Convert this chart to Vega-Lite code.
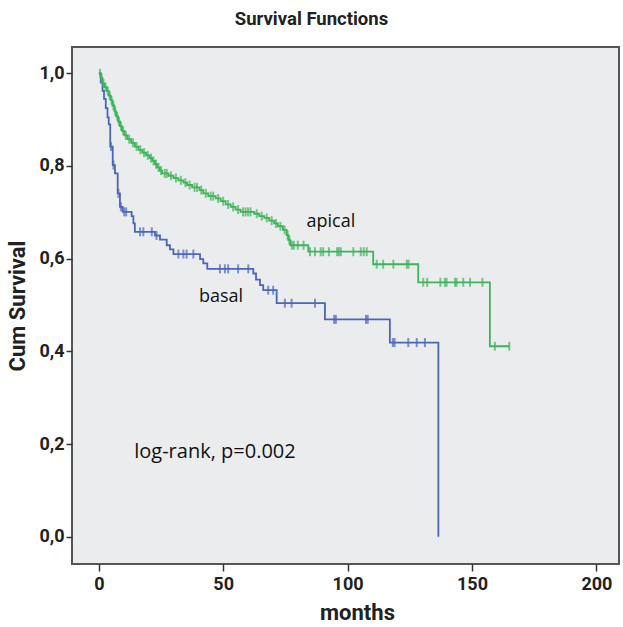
{
  "$schema": "https://vega.github.io/schema/vega-lite/v6.json",
  "width": 547,
  "height": 517,
  "autosize": {"type": "none"},
  "padding": {"left": 72, "top": 47, "right": 4, "bottom": 63},
  "background": "white",
  "title": {
    "text": "Survival Functions",
    "font": "Roboto",
    "fontSize": 18.5,
    "fontWeight": "bold",
    "color": "#222",
    "offset": 19,
    "dx": -34
  },
  "config": {
    "view": {"fill": "#ebecee", "stroke": "#555", "strokeWidth": 2},
    "axis": {
      "grid": false,
      "domain": false,
      "labelFont": "Roboto",
      "labelFontSize": 18,
      "labelFontWeight": "bold",
      "labelColor": "#222",
      "tickColor": "#333",
      "tickWidth": 1.5,
      "titleFont": "Roboto",
      "titleFontSize": 22,
      "titleFontWeight": "bold",
      "titleColor": "#222"
    }
  },
  "layer": [
    {
      "data": {"name": "surv"},
      "mark": {"type": "line", "interpolate": "step-after", "strokeWidth": 1.8},
      "encoding": {
        "x": {
          "field": "t", "type": "quantitative",
          "scale": {"domain": [-10.77, 209.1], "nice": false, "zero": false},
          "axis": {"values": [0, 50, 100, 150, 200], "title": "months", "tickSize": 7, "labelPadding": 4, "titlePadding": 9, "titleX": 285}
        },
        "y": {
          "field": "s", "type": "quantitative",
          "scale": {"domain": [-0.0589, 1.0568], "nice": false, "zero": false},
          "axis": {"values": [0, 0.2, 0.4, 0.6, 0.8, 1.0], "title": "Cum Survival", "tickSize": 6, "labelPadding": 2, "titlePadding": 9,
                   "labelExpr": "replace(format(datum.value, '.1f'), '.', ',')"}
        },
        "color": {
          "field": "g", "type": "nominal",
          "scale": {"domain": ["apical", "basal"], "range": ["#3db35a", "#4a66bb"]},
          "legend": null
        }
      }
    },
    {
      "data": {"name": "surv"},
      "transform": [{"filter": "datum.c == 1"}],
      "mark": {"type": "tick", "orient": "vertical", "size": 9, "thickness": 2},
      "encoding": {
        "x": {"field": "t", "type": "quantitative"},
        "y": {"field": "s", "type": "quantitative"},
        "color": {"field": "g", "type": "nominal", "legend": null}
      }
    },
    {
      "data": {"name": "labels"},
      "transform": [{"filter": "datum.kind == 'group'"}],
      "mark": {"type": "text", "font": "Open Sans", "fontSize": 18, "color": "#111", "align": "center", "baseline": "middle"},
      "encoding": {
        "x": {"field": "t", "type": "quantitative"},
        "y": {"field": "s", "type": "quantitative"},
        "text": {"field": "label"}
      }
    },
    {
      "data": {"name": "labels"},
      "transform": [{"filter": "datum.kind == 'test'"}],
      "mark": {"type": "text", "font": "Open Sans", "fontSize": 20, "color": "#111", "align": "center", "baseline": "middle"},
      "encoding": {
        "x": {"field": "t", "type": "quantitative"},
        "y": {"field": "s", "type": "quantitative"},
        "text": {"field": "label"}
      }
    }
  ],
  "datasets": {
    "labels": [
      {"label": "apical", "kind": "group", "t": 93.3, "s": 0.679},
      {"label": "basal", "kind": "group", "t": 49.1, "s": 0.517},
      {"label": "log-rank, p=0.002", "kind": "test", "t": 46.7, "s": 0.183}
    ],
    "surv": [
      {"g": "basal", "t": 0, "s": 1.0, "c": 0},
      {"g": "basal", "t": 0.8, "s": 0.98, "c": 0},
      {"g": "basal", "t": 1.5, "s": 0.962, "c": 0},
      {"g": "basal", "t": 2.1, "s": 0.945, "c": 0},
      {"g": "basal", "t": 2.8, "s": 0.925, "c": 0},
      {"g": "basal", "t": 3.5, "s": 0.905, "c": 0},
      {"g": "basal", "t": 4.0, "s": 0.89, "c": 0},
      {"g": "basal", "t": 4.6, "s": 0.842, "c": 0},
      {"g": "basal", "t": 4.9, "s": 0.842, "c": 1},
      {"g": "basal", "t": 5.6, "s": 0.802, "c": 0},
      {"g": "basal", "t": 5.9, "s": 0.802, "c": 1},
      {"g": "basal", "t": 6.5, "s": 0.784, "c": 0},
      {"g": "basal", "t": 7.6, "s": 0.741, "c": 0},
      {"g": "basal", "t": 7.9, "s": 0.741, "c": 1},
      {"g": "basal", "t": 8.5, "s": 0.712, "c": 0},
      {"g": "basal", "t": 8.9, "s": 0.712, "c": 1},
      {"g": "basal", "t": 9.6, "s": 0.701, "c": 0},
      {"g": "basal", "t": 10.2, "s": 0.701, "c": 1},
      {"g": "basal", "t": 11.0, "s": 0.701, "c": 1},
      {"g": "basal", "t": 13.2, "s": 0.692, "c": 0},
      {"g": "basal", "t": 13.9, "s": 0.676, "c": 0},
      {"g": "basal", "t": 14.5, "s": 0.658, "c": 0},
      {"g": "basal", "t": 16.6, "s": 0.658, "c": 1},
      {"g": "basal", "t": 17.9, "s": 0.658, "c": 1},
      {"g": "basal", "t": 21.3, "s": 0.658, "c": 1},
      {"g": "basal", "t": 22.6, "s": 0.65, "c": 0},
      {"g": "basal", "t": 23.2, "s": 0.65, "c": 1},
      {"g": "basal", "t": 24.6, "s": 0.641, "c": 0},
      {"g": "basal", "t": 27.3, "s": 0.629, "c": 0},
      {"g": "basal", "t": 28.6, "s": 0.62, "c": 0},
      {"g": "basal", "t": 30.0, "s": 0.61, "c": 0},
      {"g": "basal", "t": 32.0, "s": 0.61, "c": 1},
      {"g": "basal", "t": 34.0, "s": 0.61, "c": 1},
      {"g": "basal", "t": 35.3, "s": 0.61, "c": 1},
      {"g": "basal", "t": 38.0, "s": 0.61, "c": 1},
      {"g": "basal", "t": 40.7, "s": 0.599, "c": 0},
      {"g": "basal", "t": 42.0, "s": 0.59, "c": 0},
      {"g": "basal", "t": 43.6, "s": 0.578, "c": 0},
      {"g": "basal", "t": 48.7, "s": 0.578, "c": 1},
      {"g": "basal", "t": 50.7, "s": 0.578, "c": 1},
      {"g": "basal", "t": 52.0, "s": 0.578, "c": 1},
      {"g": "basal", "t": 56.0, "s": 0.578, "c": 1},
      {"g": "basal", "t": 60.1, "s": 0.578, "c": 1},
      {"g": "basal", "t": 62.1, "s": 0.568, "c": 0},
      {"g": "basal", "t": 63.2, "s": 0.555, "c": 0},
      {"g": "basal", "t": 64.8, "s": 0.543, "c": 0},
      {"g": "basal", "t": 66.1, "s": 0.532, "c": 0},
      {"g": "basal", "t": 68.1, "s": 0.532, "c": 1},
      {"g": "basal", "t": 70.1, "s": 0.532, "c": 1},
      {"g": "basal", "t": 71.5, "s": 0.504, "c": 0},
      {"g": "basal", "t": 74.8, "s": 0.504, "c": 1},
      {"g": "basal", "t": 77.5, "s": 0.504, "c": 1},
      {"g": "basal", "t": 86.9, "s": 0.504, "c": 1},
      {"g": "basal", "t": 90.9, "s": 0.469, "c": 0},
      {"g": "basal", "t": 94.6, "s": 0.469, "c": 1},
      {"g": "basal", "t": 95.3, "s": 0.469, "c": 1},
      {"g": "basal", "t": 107.4, "s": 0.469, "c": 1},
      {"g": "basal", "t": 108.1, "s": 0.469, "c": 1},
      {"g": "basal", "t": 117.0, "s": 0.419, "c": 0},
      {"g": "basal", "t": 118.2, "s": 0.419, "c": 1},
      {"g": "basal", "t": 118.9, "s": 0.419, "c": 1},
      {"g": "basal", "t": 124.4, "s": 0.419, "c": 1},
      {"g": "basal", "t": 127.8, "s": 0.419, "c": 1},
      {"g": "basal", "t": 131.1, "s": 0.419, "c": 1},
      {"g": "basal", "t": 136.5, "s": 0.0, "c": 0},
      {"g": "apical", "t": 0, "s": 1.0, "c": 0},
      {"g": "apical", "t": 0.5, "s": 1.0, "c": 1},
      {"g": "apical", "t": 0.8, "s": 0.99, "c": 0},
      {"g": "apical", "t": 1.1, "s": 0.99, "c": 1},
      {"g": "apical", "t": 1.5, "s": 0.978, "c": 0},
      {"g": "apical", "t": 1.9, "s": 0.978, "c": 1},
      {"g": "apical", "t": 2.3, "s": 0.97, "c": 0},
      {"g": "apical", "t": 2.7, "s": 0.97, "c": 1},
      {"g": "apical", "t": 3.2, "s": 0.962, "c": 0},
      {"g": "apical", "t": 3.6, "s": 0.962, "c": 1},
      {"g": "apical", "t": 4.0, "s": 0.952, "c": 0},
      {"g": "apical", "t": 4.4, "s": 0.952, "c": 1},
      {"g": "apical", "t": 4.8, "s": 0.942, "c": 0},
      {"g": "apical", "t": 5.1, "s": 0.942, "c": 1},
      {"g": "apical", "t": 5.5, "s": 0.93, "c": 0},
      {"g": "apical", "t": 5.9, "s": 0.93, "c": 1},
      {"g": "apical", "t": 6.3, "s": 0.918, "c": 0},
      {"g": "apical", "t": 6.6, "s": 0.918, "c": 1},
      {"g": "apical", "t": 7.0, "s": 0.907, "c": 0},
      {"g": "apical", "t": 7.4, "s": 0.907, "c": 1},
      {"g": "apical", "t": 7.8, "s": 0.896, "c": 0},
      {"g": "apical", "t": 8.1, "s": 0.896, "c": 1},
      {"g": "apical", "t": 8.5, "s": 0.886, "c": 0},
      {"g": "apical", "t": 8.9, "s": 0.886, "c": 1},
      {"g": "apical", "t": 9.3, "s": 0.876, "c": 0},
      {"g": "apical", "t": 9.8, "s": 0.876, "c": 1},
      {"g": "apical", "t": 10.3, "s": 0.866, "c": 0},
      {"g": "apical", "t": 10.9, "s": 0.866, "c": 1},
      {"g": "apical", "t": 11.5, "s": 0.858, "c": 0},
      {"g": "apical", "t": 12.2, "s": 0.858, "c": 1},
      {"g": "apical", "t": 13.0, "s": 0.85, "c": 0},
      {"g": "apical", "t": 13.7, "s": 0.85, "c": 1},
      {"g": "apical", "t": 14.5, "s": 0.842, "c": 0},
      {"g": "apical", "t": 15.2, "s": 0.842, "c": 1},
      {"g": "apical", "t": 16.0, "s": 0.835, "c": 0},
      {"g": "apical", "t": 16.7, "s": 0.835, "c": 1},
      {"g": "apical", "t": 17.5, "s": 0.829, "c": 0},
      {"g": "apical", "t": 18.2, "s": 0.829, "c": 1},
      {"g": "apical", "t": 19.0, "s": 0.823, "c": 0},
      {"g": "apical", "t": 19.7, "s": 0.823, "c": 1},
      {"g": "apical", "t": 20.5, "s": 0.817, "c": 0},
      {"g": "apical", "t": 21.0, "s": 0.817, "c": 1},
      {"g": "apical", "t": 21.5, "s": 0.811, "c": 0},
      {"g": "apical", "t": 22.0, "s": 0.811, "c": 1},
      {"g": "apical", "t": 22.5, "s": 0.804, "c": 0},
      {"g": "apical", "t": 23.0, "s": 0.804, "c": 1},
      {"g": "apical", "t": 23.5, "s": 0.797, "c": 0},
      {"g": "apical", "t": 24.0, "s": 0.797, "c": 1},
      {"g": "apical", "t": 24.5, "s": 0.79, "c": 0},
      {"g": "apical", "t": 25.0, "s": 0.79, "c": 1},
      {"g": "apical", "t": 25.5, "s": 0.784, "c": 0},
      {"g": "apical", "t": 26.5, "s": 0.784, "c": 1},
      {"g": "apical", "t": 27.3, "s": 0.784, "c": 1},
      {"g": "apical", "t": 28.0, "s": 0.779, "c": 0},
      {"g": "apical", "t": 29.0, "s": 0.779, "c": 1},
      {"g": "apical", "t": 30.0, "s": 0.774, "c": 0},
      {"g": "apical", "t": 31.0, "s": 0.774, "c": 1},
      {"g": "apical", "t": 32.0, "s": 0.769, "c": 0},
      {"g": "apical", "t": 33.0, "s": 0.769, "c": 1},
      {"g": "apical", "t": 34.0, "s": 0.764, "c": 0},
      {"g": "apical", "t": 34.8, "s": 0.764, "c": 1},
      {"g": "apical", "t": 35.5, "s": 0.759, "c": 0},
      {"g": "apical", "t": 36.5, "s": 0.759, "c": 1},
      {"g": "apical", "t": 37.5, "s": 0.754, "c": 0},
      {"g": "apical", "t": 38.5, "s": 0.754, "c": 1},
      {"g": "apical", "t": 39.5, "s": 0.754, "c": 1},
      {"g": "apical", "t": 40.5, "s": 0.748, "c": 0},
      {"g": "apical", "t": 41.2, "s": 0.748, "c": 1},
      {"g": "apical", "t": 42.0, "s": 0.741, "c": 0},
      {"g": "apical", "t": 43.0, "s": 0.741, "c": 1},
      {"g": "apical", "t": 44.0, "s": 0.735, "c": 0},
      {"g": "apical", "t": 45.0, "s": 0.735, "c": 1},
      {"g": "apical", "t": 46.0, "s": 0.735, "c": 1},
      {"g": "apical", "t": 47.0, "s": 0.73, "c": 0},
      {"g": "apical", "t": 48.0, "s": 0.73, "c": 1},
      {"g": "apical", "t": 49.0, "s": 0.724, "c": 0},
      {"g": "apical", "t": 50.0, "s": 0.724, "c": 1},
      {"g": "apical", "t": 51.0, "s": 0.717, "c": 0},
      {"g": "apical", "t": 52.0, "s": 0.717, "c": 1},
      {"g": "apical", "t": 53.0, "s": 0.712, "c": 0},
      {"g": "apical", "t": 54.0, "s": 0.712, "c": 1},
      {"g": "apical", "t": 55.0, "s": 0.706, "c": 0},
      {"g": "apical", "t": 56.0, "s": 0.706, "c": 1},
      {"g": "apical", "t": 57.0, "s": 0.701, "c": 0},
      {"g": "apical", "t": 58.0, "s": 0.701, "c": 1},
      {"g": "apical", "t": 59.0, "s": 0.701, "c": 1},
      {"g": "apical", "t": 60.0, "s": 0.701, "c": 1},
      {"g": "apical", "t": 61.0, "s": 0.701, "c": 1},
      {"g": "apical", "t": 62.5, "s": 0.697, "c": 0},
      {"g": "apical", "t": 63.5, "s": 0.697, "c": 1},
      {"g": "apical", "t": 64.5, "s": 0.692, "c": 0},
      {"g": "apical", "t": 65.5, "s": 0.692, "c": 1},
      {"g": "apical", "t": 66.5, "s": 0.688, "c": 0},
      {"g": "apical", "t": 67.5, "s": 0.688, "c": 1},
      {"g": "apical", "t": 68.5, "s": 0.682, "c": 0},
      {"g": "apical", "t": 69.5, "s": 0.682, "c": 1},
      {"g": "apical", "t": 70.5, "s": 0.676, "c": 0},
      {"g": "apical", "t": 71.2, "s": 0.676, "c": 1},
      {"g": "apical", "t": 72.0, "s": 0.67, "c": 0},
      {"g": "apical", "t": 73.0, "s": 0.67, "c": 1},
      {"g": "apical", "t": 74.0, "s": 0.662, "c": 0},
      {"g": "apical", "t": 74.7, "s": 0.662, "c": 1},
      {"g": "apical", "t": 75.5, "s": 0.651, "c": 0},
      {"g": "apical", "t": 75.9, "s": 0.651, "c": 1},
      {"g": "apical", "t": 76.2, "s": 0.64, "c": 0},
      {"g": "apical", "t": 76.6, "s": 0.64, "c": 1},
      {"g": "apical", "t": 77.0, "s": 0.629, "c": 0},
      {"g": "apical", "t": 77.6, "s": 0.629, "c": 1},
      {"g": "apical", "t": 78.4, "s": 0.629, "c": 1},
      {"g": "apical", "t": 80.0, "s": 0.629, "c": 1},
      {"g": "apical", "t": 82.3, "s": 0.629, "c": 1},
      {"g": "apical", "t": 84.2, "s": 0.615, "c": 0},
      {"g": "apical", "t": 84.9, "s": 0.615, "c": 1},
      {"g": "apical", "t": 86.9, "s": 0.615, "c": 1},
      {"g": "apical", "t": 89.2, "s": 0.615, "c": 1},
      {"g": "apical", "t": 90.2, "s": 0.615, "c": 1},
      {"g": "apical", "t": 92.5, "s": 0.615, "c": 1},
      {"g": "apical", "t": 95.8, "s": 0.615, "c": 1},
      {"g": "apical", "t": 96.5, "s": 0.615, "c": 1},
      {"g": "apical", "t": 97.3, "s": 0.615, "c": 1},
      {"g": "apical", "t": 102.3, "s": 0.615, "c": 1},
      {"g": "apical", "t": 105.3, "s": 0.615, "c": 1},
      {"g": "apical", "t": 106.5, "s": 0.615, "c": 1},
      {"g": "apical", "t": 107.7, "s": 0.615, "c": 1},
      {"g": "apical", "t": 110.3, "s": 0.588, "c": 0},
      {"g": "apical", "t": 111.7, "s": 0.588, "c": 1},
      {"g": "apical", "t": 114.3, "s": 0.588, "c": 1},
      {"g": "apical", "t": 118.4, "s": 0.588, "c": 1},
      {"g": "apical", "t": 123.8, "s": 0.588, "c": 1},
      {"g": "apical", "t": 124.5, "s": 0.588, "c": 1},
      {"g": "apical", "t": 128.4, "s": 0.549, "c": 0},
      {"g": "apical", "t": 130.4, "s": 0.549, "c": 1},
      {"g": "apical", "t": 132.0, "s": 0.549, "c": 1},
      {"g": "apical", "t": 137.3, "s": 0.549, "c": 1},
      {"g": "apical", "t": 139.1, "s": 0.549, "c": 1},
      {"g": "apical", "t": 139.8, "s": 0.549, "c": 1},
      {"g": "apical", "t": 143.2, "s": 0.549, "c": 1},
      {"g": "apical", "t": 143.8, "s": 0.549, "c": 1},
      {"g": "apical", "t": 146.5, "s": 0.549, "c": 1},
      {"g": "apical", "t": 149.2, "s": 0.549, "c": 1},
      {"g": "apical", "t": 154.2, "s": 0.549, "c": 1},
      {"g": "apical", "t": 157.2, "s": 0.411, "c": 0},
      {"g": "apical", "t": 159.2, "s": 0.411, "c": 1},
      {"g": "apical", "t": 165.0, "s": 0.411, "c": 1}
    ]
  }
}
